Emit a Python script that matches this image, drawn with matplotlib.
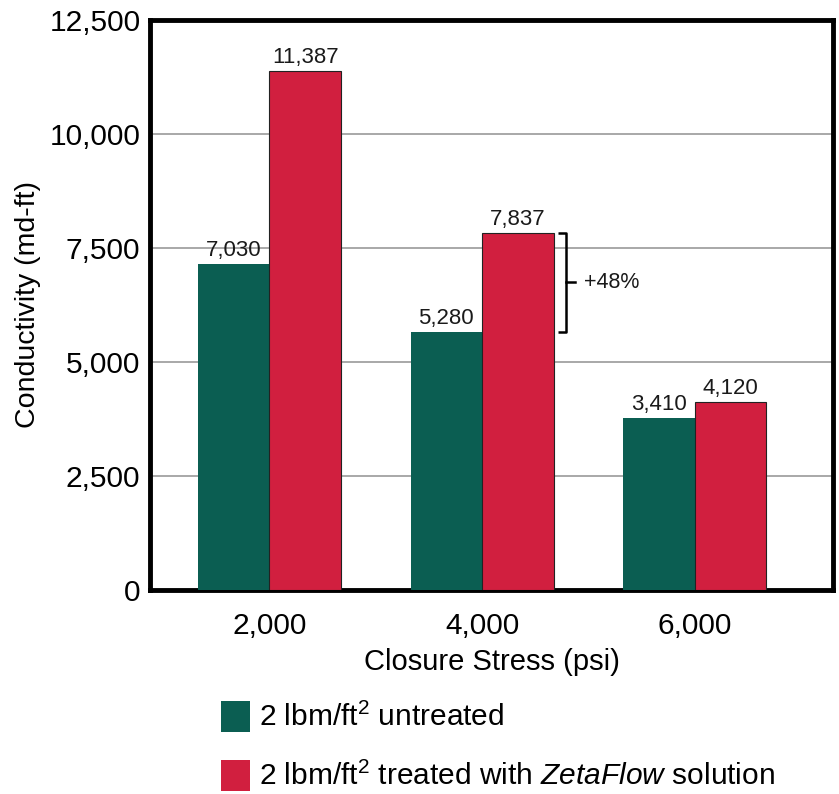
import matplotlib
matplotlib.use("Agg")
import matplotlib.pyplot as plt
from matplotlib.patches import Patch

plt.rcParams['font.family'] = ['Liberation Sans', 'DejaVu Sans']
plt.rcParams['mathtext.fontset'] = 'custom'
plt.rcParams['mathtext.rm'] = 'Liberation Sans'
plt.rcParams['mathtext.it'] = 'Liberation Sans:italic'

categories = ['2,000', '4,000', '6,000']
untreated = [7150, 5660, 3780]
treated = [11387, 7837, 4120]
untreated_labels = ['7,030', '5,280', '3,410']
treated_labels = ['11,387', '7,837', '4,120']
yticks = [0, 2500, 5000, 7500, 10000, 12500]
ytick_labels = ['0', '2,500', '5,000', '7,500', '10,000', '12,500']
series_names = ['2 lbm/ft$^2$ untreated',
                '2 lbm/ft$^2$ treated with $\\it{ZetaFlow}$ solution']
pct_text = '+48%'

green = '#0b5e52'
red = '#d11f3f'

fig = plt.figure(figsize=(8.39, 7.94), dpi=100)
ax = fig.add_axes([0.179, 0.257, 0.814, 0.718])

x = list(range(len(categories)))
w = 0.336
ax.bar([i - w / 2 for i in x], untreated, width=w, color=green,
       edgecolor='none', zorder=3)
ax.bar([i + w / 2 for i in x], treated, width=w, color=red,
       edgecolor='#222222', linewidth=0.8, zorder=3)

for i in x:
    ax.annotate(untreated_labels[i], (i - w / 2, untreated[i]),
                xytext=(0, 2), textcoords='offset points',
                ha='center', va='bottom', fontsize=16, color='#1a1a1a')
    ax.annotate(treated_labels[i], (i + w / 2, treated[i]),
                xytext=(0, 2), textcoords='offset points',
                ha='center', va='bottom', fontsize=16, color='#1a1a1a')

# bracket for the percentage increase at second category
bx = 1 + w + 0.06
ytop = treated[1]
ybot = untreated[1]
ax.plot([bx - 0.04, bx, bx, bx - 0.04], [ytop, ytop, ybot, ybot],
        color='black', lw=1.8, zorder=4, solid_capstyle='butt')
ymid = (ytop + ybot) / 2
ax.plot([bx, bx + 0.04], [ymid, ymid], color='black', lw=1.8, zorder=4)
ax.text(bx + 0.085, ymid, pct_text, ha='left', va='center', fontsize=15.5,
        color='#1a1a1a')

ax.set_xlim(-0.56, 2.65)
ax.set_ylim(0, 12500)
ax.set_yticks(yticks)
ax.set_yticklabels(ytick_labels, fontsize=21.5)
ax.set_xticks(x)
ax.set_xticklabels(categories, fontsize=21.5)
ax.tick_params(axis='both', length=0, pad=7)
ax.tick_params(axis='x', pad=16)
ax.yaxis.grid(True, color='#999999', lw=1.2, zorder=0)
ax.set_axisbelow(True)
for s in ax.spines.values():
    s.set_linewidth(3.5)
    s.set_color('black')

ax.set_ylabel('Conductivity (md-ft)', fontsize=20.5, labelpad=6)
ax.set_xlabel('Closure Stress (psi)', fontsize=21, labelpad=6)

handles = [Patch(facecolor=green, edgecolor='none'),
           Patch(facecolor=red, edgecolor='none')]
fig.legend(handles, series_names, loc='upper left',
           bbox_to_anchor=(0.264, 0.117), frameon=False, fontsize=21.5,
           handlelength=0.95, handleheight=1.2, handletextpad=0.3,
           labelspacing=0.92, borderaxespad=0, borderpad=0)

fig.savefig('out.png', dpi=100)
